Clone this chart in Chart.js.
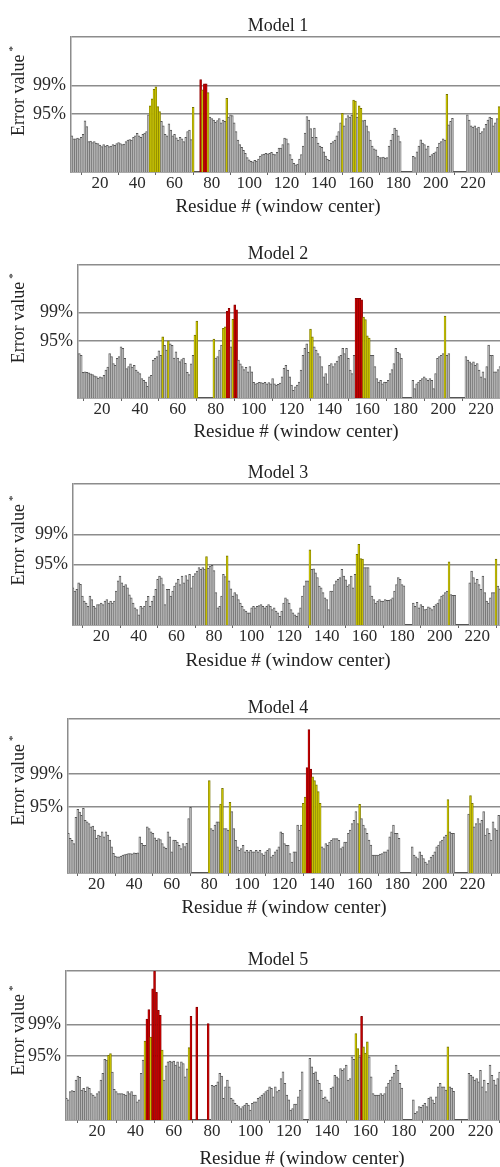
<!DOCTYPE html>
<html>
<head>
<meta charset="utf-8">
<script src="https://cdn.jsdelivr.net/npm/chart.js@4"></script>
<style>
body{margin:0;background:#fff;width:500px;height:1167px;overflow:hidden;position:relative}
canvas{position:absolute;left:0}
</style>
</head>
<body>
<script>
// =========================================
// Data (error value per window, 95% level = 2, 99% level = 3)
// =========================================

const modelNames = ["Model 1", "Model 2", "Model 3", "Model 4", "Model 5"];
const firstResidue = [5, 8, 5, 5, 4];

const model1 = [
1.25,1.15,1.15,1.17,1.15,1.2,1.3,1.77,1.57,1.05,
1.07,1.02,1.05,1.0,0.98,0.93,0.88,0.95,0.9,0.92,
0.88,0.9,0.95,0.92,0.98,1.02,0.98,0.95,0.97,1.05,
1.1,1.12,1.1,1.2,1.25,1.34,1.25,1.2,1.3,1.35,
1.4,1.98,2.29,2.53,2.86,2.95,2.26,2.09,1.75,1.6,
1.3,1.25,1.67,1.45,1.25,1.3,1.18,1.1,1.2,1.15,
1.05,1.2,1.4,1.45,1.12,2.24,null,null,null,3.2,
2.84,3.05,3.05,2.75,1.9,1.85,1.8,1.72,1.78,1.85,
1.7,1.8,1.75,2.55,1.9,1.98,1.95,1.7,1.4,1.1,
0.95,0.85,0.75,0.65,0.5,0.42,0.37,0.35,0.4,0.38,
0.45,0.55,0.6,0.62,0.65,0.63,0.65,0.68,0.62,0.6,
0.68,0.83,0.83,0.95,1.17,1.15,0.98,0.6,0.45,0.3,
0.25,0.27,0.45,0.6,0.9,1.35,1.92,1.8,1.5,1.2,
1.52,1.2,1.0,0.9,0.85,0.7,0.55,0.45,0.4,1.0,
1.05,1.1,1.25,1.4,1.7,2.03,1.6,1.85,1.95,1.9,
1.97,2.49,2.45,1.9,2.29,2.2,1.78,1.8,1.6,1.4,
1.1,0.9,0.8,0.77,0.55,0.5,0.5,0.52,0.48,0.5,
0.9,1.1,1.3,1.52,1.45,1.25,1.05,null,null,null,
null,null,null,0.54,0.5,0.7,0.9,1.11,1.0,0.95,
0.8,0.9,0.55,0.6,0.65,0.7,0.85,1.0,1.05,1.15,
1.1,2.69,1.63,1.75,1.86,null,null,null,null,null,
null,null,1.98,1.8,1.6,1.55,1.6,1.5,1.55,1.35,
1.4,1.5,1.65,1.8,1.9,1.86,1.6,1.7,1.85,2.26
];

const model2 = [
1.56,1.5,0.9,0.92,0.9,0.88,0.85,0.82,0.78,0.75,
0.7,0.74,0.72,0.8,0.98,1.09,1.56,1.45,1.21,1.15,
1.39,1.45,1.8,1.74,1.39,1.03,1.1,1.2,1.09,1.15,
0.98,0.92,0.86,0.68,0.62,0.56,0.41,0.74,0.8,1.33,
1.39,1.45,1.66,1.5,2.15,1.85,1.68,2.01,1.9,1.85,
1.4,1.62,1.4,1.28,1.35,1.4,1.22,0.9,0.82,1.2,
1.5,2.21,2.7,null,null,null,null,null,null,null,
null,2.07,1.4,1.45,1.68,1.86,2.45,2.5,3.04,3.15,
1.8,2.76,3.27,3.1,1.33,1.2,1.1,1.0,1.08,0.92,
1.1,0.92,0.55,0.5,0.52,0.55,0.54,0.52,0.55,0.5,
0.54,0.5,0.68,0.5,0.45,0.48,0.52,0.74,1.04,1.15,
0.98,0.74,0.45,0.27,0.39,0.45,0.56,0.98,1.5,1.74,
1.9,1.6,2.42,2.15,1.8,1.68,1.56,1.45,1.1,0.74,
0.86,0.5,1.15,1.21,1.1,1.21,1.3,1.45,1.5,1.74,
1.56,1.74,1.39,0.98,0.86,1.5,3.5,3.5,3.5,3.45,
2.84,2.75,2.18,2.1,1.5,1.5,1.1,0.68,0.56,0.62,
0.5,0.56,0.55,0.62,0.86,1.0,1.21,1.74,1.6,1.56,
1.39,null,null,null,null,null,0.62,0.33,0.5,0.56,
0.62,0.68,0.74,0.68,0.62,0.68,0.62,0.33,0.86,1.39,
1.45,1.5,1.56,2.88,1.5,1.56,null,null,null,null,
null,null,null,null,1.45,1.33,1.27,1.21,1.27,1.15,
1.21,0.98,0.74,0.92,0.68,1.1,1.86,1.5,1.5,0.92,
0.92,1.0,1.1
];

const model3 = [
1.23,1.12,1.18,1.4,1.35,0.96,0.79,0.73,0.62,0.96,
0.84,0.62,0.57,0.68,0.68,0.73,0.68,0.79,0.84,0.73,
0.79,0.73,0.79,1.12,1.46,1.62,1.4,1.29,1.34,1.23,
1.0,0.9,0.73,0.57,0.51,0.34,0.62,0.57,0.62,0.79,
0.95,0.62,0.79,0.96,1.18,1.51,1.62,1.56,1.34,0.68,
1.18,1.18,0.96,1.12,1.29,1.4,1.51,1.34,1.62,1.4,
1.64,1.5,1.68,1.23,1.62,1.7,1.79,1.9,1.84,1.9,
1.85,2.27,1.88,1.95,1.98,1.8,1.07,0.57,0.62,0.96,
1.68,1.6,2.29,1.46,1.2,0.96,1.07,1.01,0.84,0.73,
0.62,0.51,0.46,0.4,0.4,0.57,0.62,0.57,0.62,0.64,
0.68,0.62,0.57,0.62,0.68,0.62,0.51,0.57,0.46,0.4,
0.29,0.46,0.73,0.9,0.84,0.73,0.51,0.4,0.34,0.29,
0.4,0.57,0.96,1.3,1.46,1.46,2.49,1.84,1.86,1.73,
1.57,1.29,1.23,1.07,0.9,0.84,0.51,1.12,1.12,1.34,
1.46,1.51,1.57,1.84,1.62,1.5,1.29,1.34,1.62,1.23,
1.68,2.34,2.67,2.2,2.18,1.9,1.9,1.9,1.3,0.96,
0.84,0.73,0.79,0.84,0.79,0.79,0.84,0.82,0.82,0.84,
0.9,1.12,1.34,1.57,1.51,1.34,1.3,null,null,null,
null,0.73,0.62,0.75,0.57,0.68,0.62,0.51,0.53,0.6,
0.57,0.51,0.62,0.68,0.73,0.84,0.96,1.0,1.07,1.12,
2.09,1.01,0.98,0.98,null,null,null,null,null,null,
null,1.4,1.79,1.57,1.4,1.51,1.34,1.18,1.62,1.07,
0.79,0.73,0.9,1.07,1.07,2.18,1.29,1.2
];

const model4 = [
1.2,1.05,0.99,0.89,1.69,1.93,1.85,1.75,1.96,1.6,
1.55,1.5,1.4,1.42,1.3,1.05,1.15,1.12,1.25,1.1,
1.25,1.15,1.0,0.79,0.6,0.51,0.49,0.49,0.51,0.54,
0.56,0.57,0.59,0.59,0.58,0.61,0.6,0.61,1.1,0.9,
0.84,0.84,1.4,1.35,1.25,1.2,1.07,0.99,1.04,1.01,
0.89,0.79,0.75,1.25,1.1,0.64,1.0,0.99,0.94,0.84,
0.74,0.89,0.8,0.9,1.65,1.99,null,null,null,null,
null,null,null,null,null,2.8,1.35,1.3,1.45,1.55,
1.55,2.09,2.57,1.35,1.35,1.3,2.14,1.86,1.35,0.99,
0.79,0.69,0.74,0.84,0.64,0.69,0.64,0.69,0.64,0.64,
0.69,0.64,0.69,0.59,0.54,0.64,0.69,0.74,0.49,0.54,
0.64,0.7,0.79,1.25,1.2,0.89,0.84,0.84,0.59,0.33,
0.64,0.64,1.45,1.3,1.45,2.11,2.3,3.2,4.35,3.15,
2.92,2.8,2.67,2.47,2.11,0.79,0.74,0.89,0.84,0.94,
0.99,1.04,1.04,1.04,0.99,0.74,0.79,0.94,0.94,1.2,
1.3,1.5,1.6,1.86,1.5,2.08,1.65,1.45,1.35,1.2,
1.0,0.85,0.54,0.54,0.54,0.54,0.57,0.59,0.64,0.64,
0.7,1.1,1.25,1.45,1.2,1.2,1.05,null,null,null,
null,null,null,0.79,0.54,0.49,0.44,0.64,0.54,0.44,
0.33,0.28,0.38,0.48,0.54,0.64,0.79,0.85,0.95,1.0,
1.1,1.15,2.23,1.25,1.2,1.2,null,null,null,null,
null,null,null,1.79,2.35,2.11,1.4,1.5,1.65,1.5,
1.6,1.86,1.15,1.35,1.2,1.0,1.55,1.35,1.3,1.75
];

const model5 = [
0.68,0.63,0.89,0.92,0.9,1.25,1.38,1.34,0.94,0.99,
0.9,1.04,0.99,0.83,0.78,0.73,0.83,0.89,1.25,1.46,
1.9,1.88,2.03,2.08,1.5,0.96,0.89,0.83,0.83,0.83,
0.81,0.78,0.89,0.83,0.89,0.78,0.78,0.57,0.63,1.46,
1.88,2.47,3.16,3.46,2.6,4.11,4.67,4.0,3.44,3.28,
2.19,1.25,1.7,1.82,1.85,1.82,1.85,1.72,1.82,1.67,
1.82,1.77,1.35,1.6,2.27,3.25,null,null,3.54,null,
null,null,null,null,3.02,null,1.09,1.06,1.09,1.2,
1.46,1.38,0.68,1.04,1.25,1.04,0.68,0.63,0.52,0.47,
0.42,0.36,0.42,0.47,0.52,0.47,0.31,0.52,0.57,0.57,
0.68,0.73,0.78,0.83,0.89,0.94,1.04,0.99,0.73,1.04,
0.89,0.94,1.3,1.51,1.15,0.78,0.63,0.31,0.36,0.5,
0.5,0.73,0.94,1.51,null,null,null,1.93,1.67,1.46,
1.51,1.25,1.15,0.94,0.68,0.73,0.63,0.57,0.99,1.04,
1.4,1.35,1.3,1.61,1.56,1.61,1.72,1.25,1.3,1.98,
1.9,2.71,2.24,1.98,3.25,2.29,2.1,2.45,1.98,1.35,
0.83,0.78,0.78,0.78,0.83,0.78,0.83,1.04,1.15,1.25,
1.35,1.46,1.72,1.56,1.15,1.0,null,null,null,null,
null,0.63,0.21,0.26,0.42,0.4,0.47,0.52,0.42,0.68,
0.73,0.63,0.52,0.73,1.04,1.15,1.04,1.04,0.94,2.29,
1.04,1.0,0.9,null,null,null,null,null,null,null,
1.46,1.4,1.35,1.25,1.3,1.2,1.56,1.04,1.25,0.89,
1.15,1.72,1.4,1.25,1.1,1.3,1.5
];

const modelValues = [model1, model2, model3, model4, model5];

const xTickValues = [20, 40, 60, 80, 100, 120, 140, 160, 180, 200, 220];
const yTickValues = [2, 3];
const yTickLabels = ["95%", "99%"];
const yMax = 4.67;

// =========================================
// Layout of the five panels (pixels / residue range shown)
// =========================================

const panelLayout = [
    {left: 71, top: 37,  base: 172,  xTitle: 207,  xTitleX: 278, xMin: 4.5, xMax: 234.5},
    {left: 78, top: 265, base: 398,  xTitle: 432,  xTitleX: 296, xMin: 7.3, xMax: 230.0},
    {left: 73, top: 484, base: 625,  xTitle: 661,  xTitleX: 288, xMin: 5.0, xMax: 232.1},
    {left: 68, top: 719, base: 873,  xTitle: 908,  xTitleX: 284, xMin: 4.8, xMax: 234.7},
    {left: 66, top: 971, base: 1120, xTitle: 1159, xTitleX: 302, xMin: 3.8, xMax: 230.2}
];

const FONT = "'Liberation Serif', 'Times New Roman', serif";
Chart.defaults.font.family = FONT;
Chart.defaults.color = "#2a2a2a";

function barFill(v){
    if (v > yTickValues[1]) return "#c00000";
    if (v > yTickValues[0]) return "#c4be00";
    return "#b3b3b3";
}

function barEdge(v){
    if (v > yTickValues[1]) return "#820000";
    if (v > yTickValues[0]) return "#767300";
    return "#575757";
}

// panel title, x title and rotated y label with superscript asterisk
const panelText = {
    id: "panelText",
    afterDraw(chart, args, opts){
        const ctx = chart.ctx;
        const area = chart.chartArea;
        ctx.save();
        ctx.fillStyle = "#222";
        ctx.textBaseline = "middle";
        ctx.textAlign = "center";
        ctx.font = "18px " + FONT;
        ctx.fillText(opts.title, 278, area.top - 11);

        ctx.font = "19px " + FONT;
        ctx.fillText("Residue # (window center)", opts.xTitleX, area.bottom + opts.xTitleOffset);

        ctx.translate(19, area.top + area.height * 0.4);
        ctx.rotate(-Math.PI / 2);
        const main = "Error value";
        ctx.font = "18px " + FONT;
        const w = ctx.measureText(main).width;
        ctx.font = "11px " + FONT;
        const ws = ctx.measureText("*").width;
        const total = w + 3 + ws;
        ctx.textAlign = "left";
        ctx.font = "18px " + FONT;
        ctx.fillText(main, -total / 2, 0);
        ctx.font = "11px " + FONT;
        ctx.fillText("*", -total / 2 + w + 3, -6);
        ctx.restore();
    }
};

// =========================================
// Panels
// =========================================

function createPanel(i){

    const p = panelLayout[i];
    const values = modelValues[i];
    const start = firstResidue[i];

    const xAxisHeight = Math.round(p.xTitle - p.base + 11);
    const canvasTop = p.top - 30;

    const canvas = document.createElement("canvas");
    canvas.width = 500;
    canvas.height = p.base - canvasTop + xAxisHeight;
    canvas.style.top = canvasTop + "px";
    document.body.appendChild(canvas);

    const points = values
        .map((v, k) => ({x: start + k, y: v}))
        .filter(pt => pt.y !== null);

    new Chart(canvas, {
        type: "bar",
        data: {
            datasets: [{
                data: points,
                backgroundColor: c => barFill(c.raw ? c.raw.y : 0),
                borderColor: c => barEdge(c.raw ? c.raw.y : 0),
                borderWidth: {top: 1, right: 0.6, left: 0.4, bottom: 0},
                borderSkipped: "start",
                barPercentage: 1,
                categoryPercentage: 1
            }]
        },
        options: {
            responsive: false,
            animation: false,
            layout: {padding: {top: 30, left: 0, right: 0, bottom: 0}},
            plugins: {
                legend: {display: false},
                tooltip: {enabled: false},
                panelText: {
                    title: modelNames[i],
                    xTitleX: p.xTitleX,
                    xTitleOffset: p.xTitle - p.base
                }
            },
            scales: {
                x: {
                    type: "linear",
                    offset: false,
                    min: p.xMin,
                    max: p.xMax,
                    afterBuildTicks: s => { s.ticks = xTickValues.map(v => ({value: v})); },
                    afterFit: s => { s.height = xAxisHeight; },
                    grid: {
                        display: true,
                        drawOnChartArea: false,
                        drawTicks: true,
                        tickLength: 3,
                        color: "#666",
                        lineWidth: 1
                    },
                    border: {display: true, color: "#555", width: 1.5},
                    ticks: {
                        autoSkip: false,
                        maxRotation: 0,
                        padding: -2,
                        color: "#2a2a2a",
                        font: {size: 17}
                    }
                },
                y: {
                    min: 0,
                    max: yMax,
                    afterBuildTicks: s => {
                        s.ticks = yTickValues.map(v => ({value: v})).concat([{value: yMax}]);
                    },
                    afterFit: s => { s.width = p.left; },
                    grid: {color: "#8c8c8c", lineWidth: 1.5, drawTicks: false},
                    border: {display: true, color: "#8c8c8c", width: 1.5},
                    ticks: {
                        padding: 5,
                        color: "#2a2a2a",
                        font: {size: 18},
                        callback: v => {
                            const k = yTickValues.indexOf(v);
                            return k >= 0 ? yTickLabels[k] : "";
                        }
                    }
                }
            }
        },
        plugins: [panelText]
    });

}

for (let i = 0; i < modelValues.length; i++) {
    createPanel(i);
}
</script>
</body>
</html>
